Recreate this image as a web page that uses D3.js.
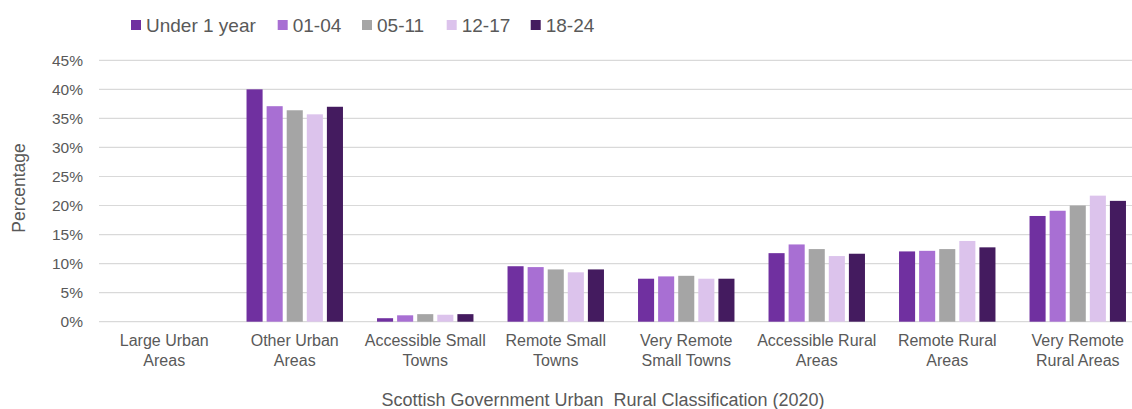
<!DOCTYPE html>
<html><head><meta charset="utf-8">
<script src="https://cdn.jsdelivr.net/npm/d3@7"></script>
<style>body{margin:0;background:#fff}text{font-family:"Liberation Sans",Arial,sans-serif}</style>
</head><body><svg id="c" width="1132" height="409"></svg>
<script>
const categories = [["Large Urban","Areas"],["Other Urban","Areas"],["Accessible Small","Towns"],["Remote Small","Towns"],["Very Remote","Small Towns"],["Accessible Rural","Areas"],["Remote Rural","Areas"],["Very Remote","Rural Areas"]];
const seriesNames = ["Under 1 year","01-04","05-11","12-17","18-24"];
const seriesColors = ["#7030a0","#a86fd3","#a5a5a5","#dcc3ec","#441b5f"];
const under1 = [0, 40.0, 0.6, 9.55, 7.4, 11.8, 12.1, 18.2];
const age0104 = [0, 37.1, 1.1, 9.4, 7.8, 13.3, 12.2, 19.1];
const age0511 = [0, 36.4, 1.3, 9.0, 7.9, 12.5, 12.5, 20.0];
const age1217 = [0, 35.7, 1.2, 8.5, 7.4, 11.3, 13.9, 21.7];
const age1824 = [0, 37.0, 1.3, 9.0, 7.4, 11.7, 12.8, 20.8];
const yTicks = [0,5,10,15,20,25,30,35,40,45];
const series = [under1, age0104, age0511, age1217, age1824];

const svg = d3.select("#c");
const x0 = d3.scaleBand().domain(d3.range(categories.length)).range([99, 1143]).paddingInner(0.261).paddingOuter(0.1305);
const x1 = d3.scaleBand().domain(d3.range(seriesNames.length)).range([0, x0.bandwidth()]).paddingInner(0.2).paddingOuter(0);
const y = d3.scaleLinear().domain([0,45]).range([321.7, 60.3]);

// gridlines
svg.append("g").selectAll("line").data(yTicks).join("line")
  .attr("x1", 99).attr("x2", 1132).attr("y1", d=>y(d)).attr("y2", d=>y(d))
  .attr("stroke", "#d9d9d9").attr("stroke-width", 1.2);

// y axis labels
const yAxis = d3.axisLeft(y).tickValues(yTicks).tickFormat(d=>d+"%").tickSize(0).tickPadding(0);
const ya = svg.append("g").attr("transform","translate(83,0)").call(yAxis);
ya.select(".domain").remove();
ya.selectAll("text").attr("fill","#595959").style("font-size","15.5px").attr("font-family","Liberation Sans, Arial, sans-serif");

// bars
const g = svg.append("g");
categories.forEach((c,i)=>{
  series.forEach((s,j)=>{
    g.append("rect")
      .attr("x", x0(i)+x1(j)).attr("width", x1.bandwidth())
      .attr("y", y(s[i])).attr("height", y(0)-y(s[i]))
      .attr("fill", seriesColors[j]);
  });
});

// x axis category labels
const xa = svg.append("g");
categories.forEach((c,i)=>{
  const cx = x0(i)+x0.bandwidth()/2;
  const t = xa.append("text").attr("text-anchor","middle").attr("fill","#595959").style("font-size","16px");
  t.append("tspan").attr("x", cx).attr("y", 346).text(c[0]);
  t.append("tspan").attr("x", cx).attr("y", 366).text(c[1]);
});

// axis titles
svg.append("text").attr("x", 603).attr("y", 406).attr("text-anchor","middle").attr("fill","#595959")
  .style("font-size","18px").style("white-space","pre").text("Scottish Government Urban  Rural Classification (2020)");
svg.append("text").attr("transform","translate(25,188) rotate(-90)").attr("text-anchor","middle").attr("fill","#595959")
  .style("font-size","17.5px").text("Percentage");

// legend
const legX = [131, 277.7, 362, 446.7, 530.7];
const lg = svg.append("g");
seriesNames.forEach((n,j)=>{
  lg.append("rect").attr("x", legX[j]).attr("y", 20).attr("width", 10).attr("height", 10).attr("fill", seriesColors[j]);
  lg.append("text").attr("x", legX[j]+15).attr("y", 32).attr("fill","#595959").style("font-size","19px").text(n);
});
</script></body></html>
